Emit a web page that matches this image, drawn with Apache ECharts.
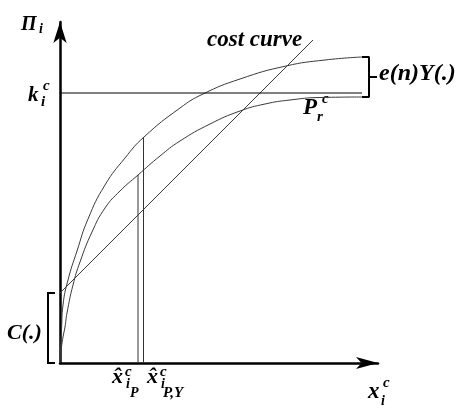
<!DOCTYPE html>
<html>
<head>
<meta charset="utf-8">
<script src="https://cdn.jsdelivr.net/npm/echarts@6/dist/echarts.min.js"></script>
<style>
html,body{margin:0;padding:0;background:#fff;}
#chart{width:459px;height:412px;}
</style>
</head>
<body>
<div id="chart"></div>
<script>
// ---- data (abstract units along x_i^c and Π_i) ----
const upperX = [0, 0.5, 1.5, 3, 8, 17, 28, 45, 65, 84, 120, 143, 180, 226, 265, 302];
const upperY = [0, 13, 33, 58, 83, 112, 144, 178, 205, 226, 255, 269, 284, 297, 303, 306];
const lowerX = [0, 1, 3, 5, 7, 13, 20, 32, 45, 60, 78, 100, 120, 150, 180, 205, 230, 260, 302];
const lowerY = [0, 12, 26, 36, 50, 78, 101, 131, 155, 172, 188, 207, 222, 239, 252, 259, 263, 265.5, 266];
const costX = [0, 253];
const costY = [70, 323];
const kLevel = 270;
const kEndX = 302;
const xHatP = 78, xHatPTop = 188;
const xHatPY = 83.5, xHatPYTop = 226;
const xMax = 318, yMax = 341;

const pairs = (xs, ys) => xs.map((x, i) => [x, ys[i]]);
const endX = upperX[upperX.length - 1];
const upEnd = upperY[upperY.length - 1];
const loEnd = lowerY[lowerY.length - 1];
const midE = (upEnd + loEnd) / 2;
const c0 = costY[0];

const FONT = '"Liberation Serif", "Times New Roman", serif';
function txt(s, x, y, size) {
  return {
    type: 'text', x: x, y: y, silent: true,
    style: {
      text: s, fill: '#000',
      font: 'italic bold ' + size + 'px ' + FONT,
      verticalAlign: 'middle', align: 'left'
    }
  };
}

const baseLine = {type: 'line', symbol: 'none', silent: true, animation: false};
const chart = echarts.init(document.getElementById('chart'));
chart.setOption({
  animation: false,
  backgroundColor: '#fff',
  grid: {left: 60, right: 81, top: 22, bottom: 49},
  xAxis: {
    type: 'value', min: 0, max: xMax,
    axisLine: {show: true, onZero: false, symbol: ['none', 'arrow'], symbolSize: [9, 22],
      lineStyle: {color: '#000', width: 2.5}},
    axisTick: {show: false}, axisLabel: {show: false}, splitLine: {show: false}
  },
  yAxis: {
    type: 'value', min: 0, max: yMax,
    axisLine: {show: true, onZero: false, symbol: ['none', 'arrow'], symbolSize: [10, 21],
      lineStyle: {color: '#000', width: 2.5}},
    axisTick: {show: false}, axisLabel: {show: false}, splitLine: {show: false}
  },
  series: [
    Object.assign({}, baseLine, {name: 'e(n)Y', data: pairs(upperX, upperY), smooth: 0.5,
      lineStyle: {color: '#3a3a3a', width: 1}}),
    Object.assign({}, baseLine, {name: 'Pr', data: pairs(lowerX, lowerY), smooth: 0.5,
      lineStyle: {color: '#3a3a3a', width: 1}}),
    Object.assign({}, baseLine, {name: 'cost', data: pairs(costX, costY),
      lineStyle: {color: '#3a3a3a', width: 1}}),
    Object.assign({}, baseLine, {name: 'k', data: [[0, kLevel], [kEndX, kLevel]],
      lineStyle: {color: '#000', width: 1}}),
    Object.assign({}, baseLine, {name: 'xP', data: [[xHatP, 0], [xHatP, xHatPTop]],
      lineStyle: {color: '#333', width: 1}}),
    Object.assign({}, baseLine, {name: 'xPY', data: [[xHatPY, 0], [xHatPY, xHatPYTop]],
      lineStyle: {color: '#333', width: 1}}),
    Object.assign({}, baseLine, {name: 'bracketE', clip: false,
      data: [[endX, upEnd], [endX + 7, upEnd], [endX + 7, loEnd], [endX, loEnd]],
      lineStyle: {color: '#000', width: 2}}),
    Object.assign({}, baseLine, {name: 'bracketEmid', clip: false,
      data: [[endX + 7, midE], [endX + 15, midE]],
      lineStyle: {color: '#000', width: 2}})
  ]
});

// C(.) bracket, left of the y axis, placed through the axis scales
const pOrigin = chart.convertToPixel({gridIndex: 0}, [0, 0]);
const pC = chart.convertToPixel({gridIndex: 0}, [0, c0]);
const brX = pOrigin[0] - 12, tickX = pOrigin[0] - 5;
chart.setOption({
  graphic: [
    {type: 'polyline', silent: true,
      shape: {points: [[tickX, pC[1]], [brX, pC[1]], [brX, pOrigin[1]], [tickX, pOrigin[1]]]},
      style: {stroke: '#000', lineWidth: 2, fill: null}},
    txt('Π', 21, 25, 20), txt('i', 39, 29, 14),
    txt('k', 28, 96, 21), txt('c', 43, 86, 15), txt('i', 41, 102, 15),
    txt('cost curve', 207, 40, 23),
    txt('e(n)Y(.)', 379, 74, 24),
    txt('P', 303, 108, 23), txt('c', 322, 99, 15), txt('r', 317, 117, 15),
    txt('C(.)', 7, 333, 22),
    txt('x\u0302', 112, 377, 22), txt('c', 125, 372, 15), txt('i', 126, 384, 14), txt('P', 130, 393, 14),
    txt('x\u0302', 147, 377, 22), txt('c', 160, 372, 15), txt('i', 161, 384, 14), txt('P,Y', 163, 393, 15),
    txt('x', 368, 392, 23), txt('c', 383, 383, 15), txt('i', 381, 401, 14)
  ]
});
</script>
</body>
</html>
